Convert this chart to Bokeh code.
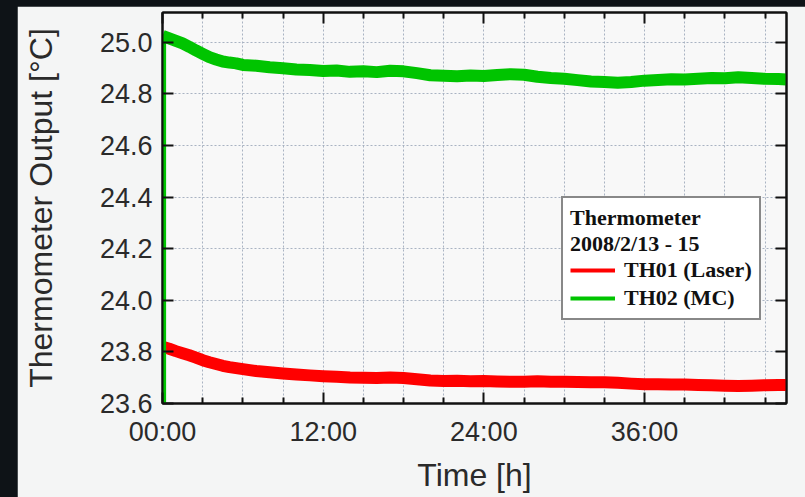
from bokeh.plotting import figure
from bokeh.models import (Range1d, FixedTicker, LinearAxis, NumeralTickFormatter,
                          Legend, LegendItem)
from bokeh.layouts import column
from bokeh.embed import file_html
from bokeh.resources import INLINE

# ---------------- data ----------------
time_h = [0.0, 0.5, 1.0, 1.5, 2.0, 2.5, 3.0, 3.5, 4.0, 4.5, 5.0, 5.5, 6.0,
          7.0, 8.0, 9.0, 10.0, 11.0, 12.0, 13.0, 14.0, 15.0, 16.0, 17.0,
          18.0, 19.0, 20.0, 21.0, 22.0, 23.0, 24.0, 25.0, 26.0, 27.0, 28.0,
          29.0, 30.0, 31.0, 32.0, 33.0, 34.0, 35.0, 36.0, 37.0, 38.0, 39.0,
          40.0, 41.0, 42.0, 43.0, 44.0, 45.0, 46.0, 46.6]

th01_laser = [23.820, 23.812, 23.803, 23.795, 23.787, 23.778, 23.768, 23.760,
              23.753, 23.746, 23.741, 23.737, 23.733, 23.726, 23.721, 23.716,
              23.712, 23.709, 23.706, 23.704, 23.701, 23.700, 23.699, 23.701,
              23.699, 23.694, 23.689, 23.687, 23.688, 23.686, 23.687, 23.685,
              23.684, 23.684, 23.686, 23.684, 23.684, 23.683, 23.682, 23.682,
              23.680, 23.677, 23.675, 23.675, 23.674, 23.674, 23.672, 23.671,
              23.669, 23.668, 23.669, 23.671, 23.672, 23.672]

th02_mc = [25.025, 25.015, 25.005, 24.995, 24.982, 24.968, 24.955, 24.942,
           24.933, 24.925, 24.921, 24.918, 24.912, 24.909, 24.903, 24.899,
           24.894, 24.892, 24.888, 24.890, 24.885, 24.887, 24.884, 24.889,
           24.887, 24.880, 24.872, 24.870, 24.868, 24.871, 24.869, 24.873,
           24.876, 24.874, 24.866, 24.861, 24.858, 24.853, 24.848, 24.846,
           24.843, 24.846, 24.851, 24.853, 24.856, 24.855, 24.858, 24.861,
           24.860, 24.864, 24.861, 24.858, 24.857, 24.855]

# start-up transient of TH02 (rises from below the axis at switch-on)
th02_start_t = [0.12, 0.12]
th02_start_v = [23.0, 25.02]

x_major = [0, 12, 24, 36]
x_labels = ["00:00", "12:00", "24:00", "36:00"]
x_minor = [3, 6, 9, 15, 18, 21, 27, 30, 33, 39, 42, 45]
x_grid = [3, 6, 9, 12, 15, 18, 21, 24, 27, 30, 33, 36, 39, 42, 45]
y_major = [23.6, 23.8, 24.0, 24.2, 24.4, 24.6, 24.8, 25.0]

legend_title = "Thermometer\n2008/2/13 - 15"
series_names = ["TH01 (Laser)", "TH02 (MC)"]
series_colors = ["#ff0000", "#00c400"]

# ---------------- figure ----------------
SANS = "Liberation Sans"
SERIF = "Liberation Serif"

p = figure(width=788, height=491, x_range=Range1d(0, 46.6),
           y_range=Range1d(23.6, 25.115), output_backend="svg",
           toolbar_location=None, min_border_left=145, min_border_right=19,
           min_border_top=6, min_border_bottom=94)
p.margin = (6, 0, 0, 17)
p.border_fill_color = "#f4f5f5"
p.background_fill_color = "#f8f8f8"
p.outline_line_color = "#111111"
p.outline_line_width = 2

bottom_ax = p.xaxis[0]
left_ax = p.yaxis[0]

# axes
xt = FixedTicker(ticks=x_major, minor_ticks=x_minor)
yt = FixedTicker(ticks=y_major, minor_ticks=[])

bottom_ax.ticker = xt
bottom_ax.major_label_overrides = {t: s for t, s in zip(x_major, x_labels)}
bottom_ax.axis_label = "Time [h]"
left_ax.ticker = yt
left_ax.formatter = NumeralTickFormatter(format="0.0")
left_ax.axis_label = "Thermometer Output [°C]"

# mirror axes: ticks only, no labels
top_ax = LinearAxis(ticker=xt,
                    major_label_overrides={t: "" for t in x_major})
right_ax = LinearAxis(ticker=yt,
                      major_label_overrides={t: "" for t in y_major})
p.add_layout(top_ax, "above")
p.add_layout(right_ax, "right")

for ax in [bottom_ax, top_ax]:
    ax.major_tick_in = 11
    ax.major_tick_out = 0
    ax.minor_tick_in = 6
    ax.minor_tick_out = 0
for ax in [left_ax, right_ax]:
    ax.major_tick_in = 11
    ax.major_tick_out = 0
    ax.minor_tick_in = 0
    ax.minor_tick_out = 0

for ax in [bottom_ax, left_ax, top_ax, right_ax]:
    ax.axis_line_color = "#111111"
    ax.axis_line_width = 2
    ax.major_tick_line_color = "#111111"
    ax.major_tick_line_width = 2
    ax.minor_tick_line_color = "#111111"
    ax.minor_tick_line_width = 2
    ax.major_label_text_font = SANS
    ax.major_label_text_font_size = "27px"
    ax.major_label_text_color = "#2a2a2a"
    ax.axis_label_text_font = SANS
    ax.axis_label_text_font_size = "32px"
    ax.axis_label_text_font_style = "normal"
    ax.axis_label_text_color = "#2a2a2a"

for ax in [top_ax, right_ax]:
    ax.major_label_standoff = 0

bottom_ax.major_label_standoff = 13
bottom_ax.axis_label_standoff = 7
left_ax.major_label_standoff = 10
left_ax.axis_label_standoff = 38

# grid
p.xgrid.ticker = FixedTicker(ticks=x_grid)
p.ygrid.ticker = yt
for g in [p.xgrid, p.ygrid]:
    g.grid_line_color = "#a9b3c2"
    g.grid_line_dash = "2 2"
    g.grid_line_width = 1

# data
r1 = p.line(time_h, th01_laser, line_color=series_colors[0], line_width=12,
            line_join="round")
p.line(th02_start_t, th02_start_v, line_color=series_colors[1], line_width=4)
r2 = p.line(time_h, th02_mc, line_color=series_colors[1], line_width=12,
            line_join="round")

# legend (thin sample lines, proxies carrying no visible data)
nan = float("nan")
r1_leg = p.line([nan], [nan], line_color=series_colors[0], line_width=4)
r2_leg = p.line([nan], [nan], line_color=series_colors[1], line_width=4)
legend = Legend(items=[LegendItem(label=series_names[0], renderers=[r1_leg]),
                       LegendItem(label=series_names[1], renderers=[r2_leg])],
                location=(399, 83), title=legend_title)
legend.title_text_font = SERIF
legend.title_text_font_style = "bold"
legend.title_text_font_size = "22px"
legend.title_text_color = "#111111"
legend.title_standoff = 0
legend.label_text_font = SERIF
legend.label_text_font_style = "bold"
legend.label_text_font_size = "22px"
legend.label_text_color = "#111111"
legend.glyph_width = 45
legend.glyph_height = 24
legend.label_height = 24
legend.label_standoff = 9
legend.spacing = 2
legend.padding = 7
legend.margin = 0
legend.border_line_color = "#111111"
legend.border_line_width = 2
legend.background_fill_color = "#ffffff"
legend.background_fill_alpha = 1.0
p.add_layout(legend)

page = column(p, styles={"background-color": "#0e1317"})

open("out.html", "w").write(file_html(page, INLINE))
